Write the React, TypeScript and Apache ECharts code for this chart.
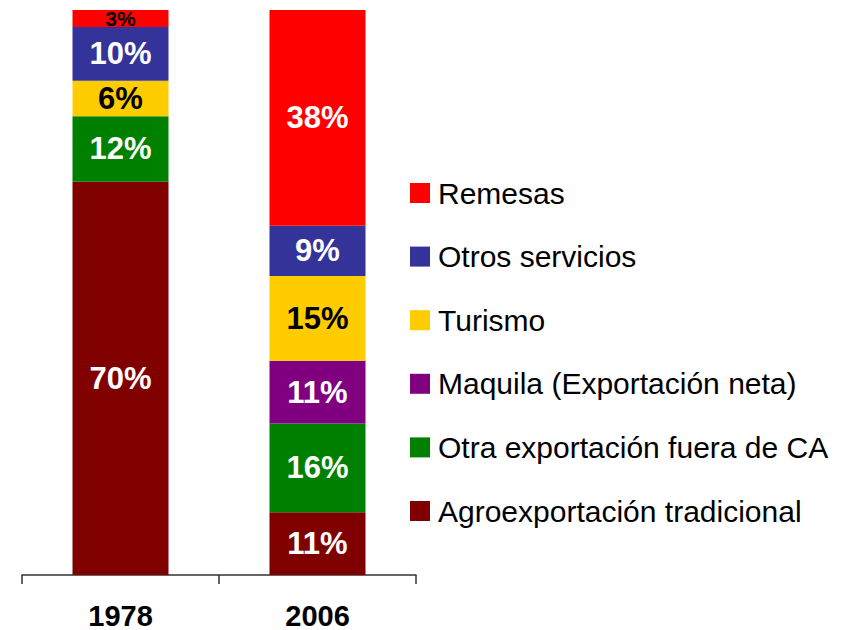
import React, { useEffect, useRef } from "react";
import * as echarts from "echarts";

const years = ["1978", "2006"];
const seriesNames = [
  "Agroexportación tradicional",
  "Otra exportación fuera de CA",
  "Maquila (Exportación neta)",
  "Turismo",
  "Otros servicios",
  "Remesas",
];
const agro = [69.6, 11.1];
const otraExp = [11.6, 15.7];
const maquila = [0, 11.1];
const turismo = [6.3, 15.0];
const otrosServ = [9.5, 8.9];
const remesas = [3.0, 38.2];
const legendOrder = [
  "Remesas",
  "Otros servicios",
  "Turismo",
  "Maquila (Exportación neta)",
  "Otra exportación fuera de CA",
  "Agroexportación tradicional",
];

const colors = ["#800000", "#008000", "#800080", "#FFCC00", "#333399", "#FF0000"];
const labelColors = ["#fff", "#fff", "#fff", "#000", "#fff", "#fff"];
const FONT = "Liberation Sans";

export default function App() {
  const ref = useRef<HTMLDivElement>(null);
  useEffect(() => {
    document.body.style.margin = "0";
    if (!ref.current) return;
    const chart = echarts.init(ref.current, null, { renderer: "svg" });
    const values = [agro, otraExp, maquila, turismo, otrosServ, remesas];
    const series = values.map((vals, i) => ({
      name: seriesNames[i],
      type: "bar",
      stack: "total",
      barWidth: 96,
      itemStyle: { color: colors[i] },
      label: {
        show: true,
        position: "inside",
        fontFamily: FONT,
        fontWeight: "bold",
        fontSize: 31,
        color: labelColors[i],
        formatter: (p: any) => (p.value > 0 ? Math.round(p.value) + "%" : ""),
      },
      data: vals.map((v) =>
        v < 5
          ? { value: v, label: { fontSize: 21, color: "#000" } }
          : { value: v }
      ),
    }));
    chart.setOption({
      animation: false,
      textStyle: { fontFamily: FONT },
      grid: { left: 22, right: 428, top: 10, bottom: 54, containLabel: false },
      xAxis: {
        type: "category",
        data: years,
        axisLine: { show: true, lineStyle: { color: "#333", width: 1.5 } },
        axisTick: { show: true, length: 9, lineStyle: { color: "#333", width: 1.5 } },
        axisLabel: {
          margin: 26,
          fontFamily: FONT,
          fontWeight: "bold",
          fontSize: 29,
          lineHeight: 29,
          color: "#000",
        },
      },
      yAxis: { type: "value", min: 0, max: 100, show: false },
      legend: {
        data: legendOrder,
        orient: "vertical",
        left: 410,
        top: 178,
        padding: 0,
        itemWidth: 20,
        itemHeight: 20,
        itemGap: 33.6,
        icon: "rect",
        selectedMode: false,
        textStyle: {
          fontFamily: FONT,
          fontSize: 30,
          color: "#000",
          padding: [0, 0, 0, 3],
        },
      },
      series,
    });
    return () => chart.dispose();
  }, []);
  return <div ref={ref} style={{ width: 844, height: 630 }} />;
}
